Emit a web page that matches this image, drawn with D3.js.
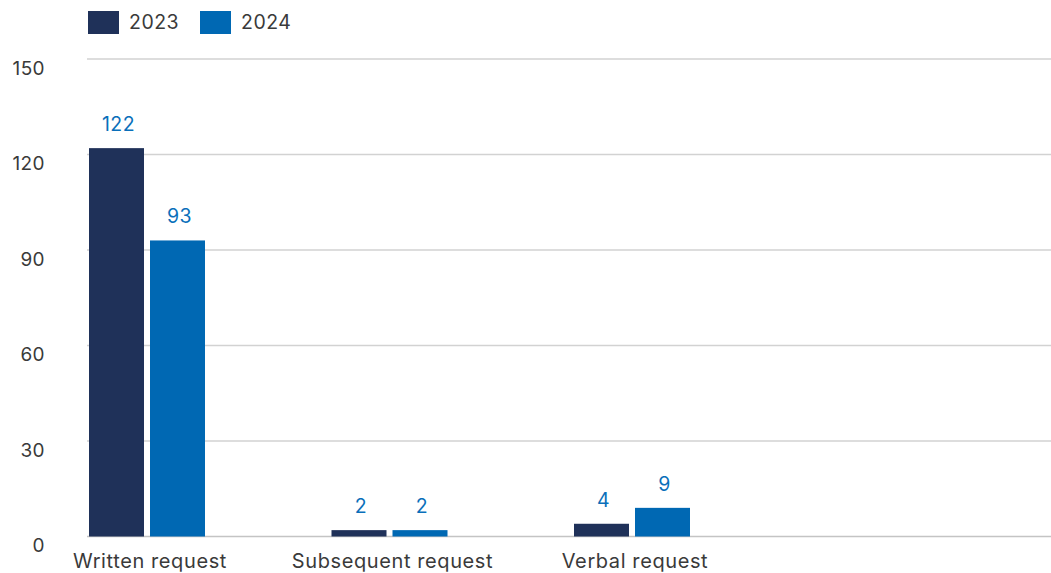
<!DOCTYPE html>
<html>
<head>
<meta charset="utf-8">
<script src="https://cdn.jsdelivr.net/npm/d3@7"></script>
<style>
  html, body { margin: 0; padding: 0; background: #fff; }
  svg { display: block; }
  text { font-family: "Inter", "Noto Sans", sans-serif; }
</style>
</head>
<body>
<svg id="chart" width="1051" height="573"></svg>
<script>
// Request types (last slot is left empty)
const categories = ["Written request", "Subsequent request", "Verbal request", ""];
const seriesNames = ["2023", "2024"];
const values2023 = [122, 2, 4, null];
const values2024 = [93, 2, 9, null];
const yTicks = [0, 30, 60, 90, 120, 150];

const colors = { "2023": "#1f3159", "2024": "#0068b3" };
const labelColor = "#0a6fba";
const textColor = "#3a3a3a";

const W = 1051, H = 573;
const plot = { left: 87, right: 1057, top: 59, bottom: 536.5 };

const svg = d3.select("#chart");

const x0 = d3.scaleBand().domain(categories).range([plot.left, plot.right]);
const x1 = d3.scaleBand().domain(seriesNames).range([2, 118]).paddingInner(0.0984);
const y = d3.scaleLinear().domain([0, 150]).range([plot.bottom, plot.top]);

// Gridlines
svg.append("g")
  .selectAll("line")
  .data(yTicks)
  .join("line")
  .attr("x1", plot.left).attr("x2", W)
  .attr("y1", d => y(d)).attr("y2", d => y(d))
  .attr("stroke", d => d === 0 ? "#c4c4c4" : "#d2d2d2")
  .attr("stroke-width", 1.3);

// Y axis labels
const yAxis = d3.axisLeft(y).tickValues(yTicks).tickSize(0).tickPadding(0);
const yg = svg.append("g").attr("transform", `translate(45,9)`).call(yAxis);
yg.select(".domain").remove();
yg.selectAll("text")
  .attr("fill", textColor)
  .style("font-size", "19px")
  .style("letter-spacing", "0.4px")
  .style("font-family", "Inter, 'Noto Sans', sans-serif");

// Bars
const rows = categories.map((c, i) => ({
  cat: c,
  items: [
    { key: "2023", value: values2023[i] },
    { key: "2024", value: values2024[i] }
  ].filter(d => d.value != null)
}));

const groups = svg.append("g")
  .selectAll("g")
  .data(rows)
  .join("g")
  .attr("transform", d => `translate(${x0(d.cat)},0)`);

groups.selectAll("rect")
  .data(d => d.items)
  .join("rect")
  .attr("x", d => x1(d.key))
  .attr("width", x1.bandwidth())
  .attr("y", d => y(d.value))
  .attr("height", d => y(0) - y(d.value))
  .attr("fill", d => colors[d.key]);

groups.selectAll("text.value")
  .data(d => d.items)
  .join("text")
  .attr("class", "value")
  .attr("x", d => x1(d.key) + x1.bandwidth() / 2 + 2)
  .attr("y", d => y(d.value) - 17)
  .attr("text-anchor", "middle")
  .attr("fill", labelColor)
  .style("font-size", "19.5px")
  .style("letter-spacing", "0.4px")
  .text(d => d.value);

// Category labels centered under each bar pair
svg.append("g")
  .selectAll("text")
  .data(categories.filter(c => c !== ""))
  .join("text")
  .attr("x", d => x0(d) + 63)
  .attr("y", 568)
  .attr("text-anchor", "middle")
  .attr("fill", textColor)
  .style("font-size", "20px")
  .style("letter-spacing", "0.6px")
  .text(d => d);

// Legend
const legend = svg.append("g");
const legendX = [88, 200];
seriesNames.forEach((s, i) => {
  legend.append("rect")
    .attr("x", legendX[i]).attr("y", 11)
    .attr("width", 31).attr("height", 23)
    .attr("fill", colors[s]);
  legend.append("text")
    .attr("x", legendX[i] + 41).attr("y", 29)
    .attr("fill", textColor)
    .style("font-size", "19.5px")
    .style("letter-spacing", "0.5px")
    .text(s);
});
</script>
</body>
</html>
